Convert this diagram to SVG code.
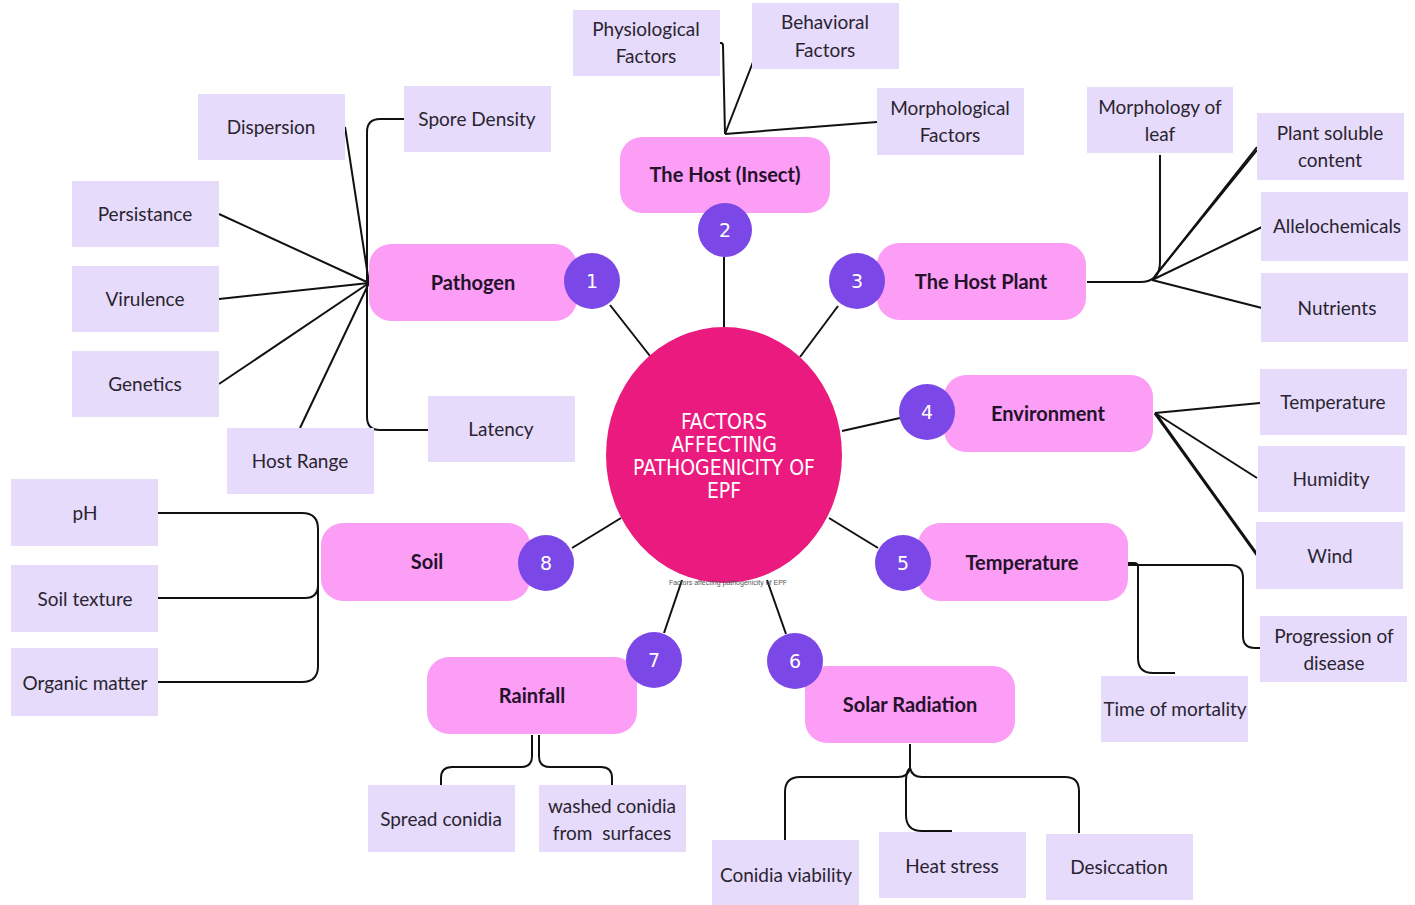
<svg xmlns="http://www.w3.org/2000/svg" width="1415" height="905" viewBox="0 0 1415 905">
<style>
.main{fill:#fc9df6}
.leaf{fill:#e6dbfb}
.num{fill:#7b47e6}
.mt{font-family:Lato,"Liberation Sans",sans-serif;font-weight:bold;font-size:20px;fill:#23122a;text-anchor:middle;dominant-baseline:central}
.lt{font-family:Lato,"Liberation Sans",sans-serif;font-size:19px;fill:#2a2430;text-anchor:middle;dominant-baseline:central}
.nt{font-family:"DejaVu Sans",sans-serif;font-size:19px;fill:#ffffff;text-anchor:middle;dominant-baseline:central}
.ct{font-family:"DejaVu Sans Condensed","DejaVu Sans",sans-serif;font-size:21px;fill:#ffffff;text-anchor:middle}
.cn{fill:none;stroke:#111;stroke-width:2}
</style>
<rect width="1415" height="905" fill="#ffffff"/>

<g id="connectors">
  <line class="cn" x1="724" y1="257" x2="724" y2="328"/>
  <line class="cn" x1="610" y1="305" x2="650" y2="356"/>
  <line class="cn" x1="838" y1="306" x2="800" y2="357"/>
  <line class="cn" x1="900" y1="418" x2="842" y2="431"/>
  <line class="cn" x1="878" y1="548" x2="829" y2="518"/>
  <line class="cn" x1="786" y1="634" x2="767" y2="580"/>
  <line class="cn" x1="664" y1="633" x2="682" y2="580"/>
  <line class="cn" x1="572" y1="548" x2="621" y2="518"/>
  <path class="cn" d="M719 43 H721 Q723 43 723 46 L725 134"/>
  <line class="cn" x1="753" y1="62" x2="725" y2="134"/>
  <line class="cn" x1="877" y1="122" x2="725" y2="134"/>
  <line class="cn" x1="345" y1="127" x2="369" y2="283"/>
  <line class="cn" x1="219" y1="214" x2="369" y2="283"/>
  <line class="cn" x1="219" y1="299" x2="369" y2="283"/>
  <line class="cn" x1="219" y1="384" x2="369" y2="283"/>
  <line class="cn" x1="300" y1="428" x2="369" y2="283"/>
  <path class="cn" d="M404 119 H380 Q367 119 367 132 V417 Q367 430 380 430 H428"/>
  <path class="cn" d="M1087 282 H1140 Q1160 282 1160 262 V155"/>
  <line class="cn" x1="1152" y1="280" x2="1257" y2="147"/>
  <line class="cn" x1="1155" y1="276" x2="1257" y2="150"/>
  <line class="cn" x1="1152" y1="280" x2="1262" y2="227"/>
  <line class="cn" x1="1152" y1="280" x2="1262" y2="308"/>
  <line class="cn" x1="1155" y1="413" x2="1260" y2="403"/>
  <line class="cn" x1="1155" y1="413" x2="1257" y2="478"/>
  <line class="cn" x1="1155" y1="413" x2="1263" y2="563" style="stroke-width:3"/>
  <path class="cn" d="M1128 565 H1230 Q1243 565 1243 578 V636 Q1243 648 1255 648 H1260"/>
  <path class="cn" d="M1128 563 H1134 Q1138 563 1138 567 V658 Q1138 673 1153 673 H1175"/>
  <path class="cn" d="M910 744 V768"/>
  <path class="cn" d="M910 768 Q908 777 898 777 H800 Q785 777 785 792 V840"/>
  <path class="cn" d="M910 768 Q906 772 906 780 V815 Q906 831 922 831 H952"/>
  <path class="cn" d="M910 768 Q912 777 922 777 H1065 Q1079 777 1079 791 V833"/>
  <path class="cn" d="M532 735 V756 Q532 767 521 767 H452 Q441 767 441 778 V785"/>
  <path class="cn" d="M539 735 V756 Q539 767 550 767 H601 Q612 767 612 778 V785"/>
  <path class="cn" d="M158 513 H302 Q318 513 318 529 V585 Q318 598 305 598 H158"/>
  <path class="cn" d="M318 560 V666 Q318 682 302 682 H158"/>
</g>

<g id="center">
  <ellipse cx="724" cy="455" rx="118" ry="128" fill="#ea1a7e"/>
  <text class="ct" x="724" y="429">FACTORS</text>
  <text class="ct" x="724" y="452">AFFECTING</text>
  <text class="ct" x="724" y="475">PATHOGENICITY OF</text>
  <text class="ct" x="724" y="498">EPF</text>
  <text x="728" y="585" font-family="'Liberation Sans',sans-serif" font-size="7" fill="#555" text-anchor="middle">Factors affecting pathogenicity of EPF</text>
</g>

<g id="host-insect">
  <rect class="main" x="620" y="137" width="210" height="76" rx="22"/>
  <text class="mt" x="725" y="174">The Host (Insect)</text>
  <circle class="num" cx="725" cy="230" r="27"/>
  <text class="nt" x="725" y="230">2</text>
</g>
<g id="pathogen">
  <rect class="main" x="369" y="244" width="208" height="77" rx="22"/>
  <text class="mt" x="473" y="282">Pathogen</text>
  <circle class="num" cx="592" cy="281" r="28"/>
  <text class="nt" x="592" y="281">1</text>
</g>
<g id="host-plant">
  <rect class="main" x="877" y="243" width="209" height="77" rx="22"/>
  <text class="mt" x="981" y="281">The Host Plant</text>
  <circle class="num" cx="857" cy="281" r="28"/>
  <text class="nt" x="857" y="281">3</text>
</g>
<g id="environment">
  <rect class="main" x="944" y="375" width="209" height="77" rx="22"/>
  <text class="mt" x="1048" y="413">Environment</text>
  <circle class="num" cx="927" cy="412" r="28"/>
  <text class="nt" x="927" y="412">4</text>
</g>
<g id="temperature">
  <rect class="main" x="918" y="523" width="210" height="78" rx="22"/>
  <text class="mt" x="1022" y="562">Temperature</text>
  <circle class="num" cx="903" cy="563" r="28"/>
  <text class="nt" x="903" y="563">5</text>
</g>
<g id="solar-radiation">
  <rect class="main" x="805" y="666" width="210" height="77" rx="22"/>
  <text class="mt" x="910" y="704">Solar Radiation</text>
  <circle class="num" cx="795" cy="661" r="28"/>
  <text class="nt" x="795" y="661">6</text>
</g>
<g id="rainfall">
  <rect class="main" x="427" y="657" width="210" height="77" rx="22"/>
  <text class="mt" x="532" y="695">Rainfall</text>
  <circle class="num" cx="654" cy="660" r="28"/>
  <text class="nt" x="654" y="660">7</text>
</g>
<g id="soil">
  <rect class="main" x="321" y="523" width="209" height="78" rx="22"/>
  <text class="mt" x="427" y="561">Soil</text>
  <circle class="num" cx="546" cy="563" r="28"/>
  <text class="nt" x="546" y="563">8</text>
</g>

<g id="physiological"><rect class="leaf" x="573" y="10" width="147" height="66"/><text class="lt" x="646" y="28">Physiological</text><text class="lt" x="646" y="55">Factors</text></g>
<g id="behavioral"><rect class="leaf" x="752" y="3" width="147" height="66"/><text class="lt" x="825" y="21">Behavioral</text><text class="lt" x="825" y="49">Factors</text></g>
<g id="morphological"><rect class="leaf" x="877" y="88" width="147" height="67"/><text class="lt" x="950" y="107">Morphological</text><text class="lt" x="950" y="134">Factors</text></g>
<g id="dispersion"><rect class="leaf" x="198" y="94" width="147" height="66"/><text class="lt" x="271" y="126">Dispersion</text></g>
<g id="spore-density"><rect class="leaf" x="404" y="86" width="147" height="66"/><text class="lt" x="477" y="118">Spore Density</text></g>
<g id="persistance"><rect class="leaf" x="72" y="181" width="147" height="66"/><text class="lt" x="145" y="213">Persistance</text></g>
<g id="virulence"><rect class="leaf" x="72" y="266" width="147" height="66"/><text class="lt" x="145" y="298">Virulence</text></g>
<g id="genetics"><rect class="leaf" x="72" y="351" width="147" height="66"/><text class="lt" x="145" y="383">Genetics</text></g>
<g id="latency"><rect class="leaf" x="428" y="396" width="147" height="66"/><text class="lt" x="501" y="428">Latency</text></g>
<g id="host-range"><rect class="leaf" x="227" y="428" width="147" height="66"/><text class="lt" x="300" y="460">Host Range</text></g>
<g id="morphology-leaf"><rect class="leaf" x="1087" y="87" width="146" height="66"/><text class="lt" x="1160" y="106">Morphology of</text><text class="lt" x="1160" y="133">leaf</text></g>
<g id="plant-soluble"><rect class="leaf" x="1257" y="113" width="147" height="67"/><text class="lt" x="1330" y="132">Plant soluble</text><text class="lt" x="1330" y="159">content</text></g>
<g id="allelochemicals"><rect class="leaf" x="1261" y="192" width="147" height="69"/><text class="lt" x="1337" y="225">Allelochemicals</text></g>
<g id="nutrients"><rect class="leaf" x="1261" y="273" width="147" height="69"/><text class="lt" x="1337" y="307">Nutrients</text></g>
<g id="env-temperature"><rect class="leaf" x="1260" y="369" width="147" height="66"/><text class="lt" x="1333" y="401">Temperature</text></g>
<g id="humidity"><rect class="leaf" x="1258" y="446" width="147" height="66"/><text class="lt" x="1331" y="478">Humidity</text></g>
<g id="wind"><rect class="leaf" x="1256" y="522" width="147" height="67"/><text class="lt" x="1330" y="555">Wind</text></g>
<g id="progression"><rect class="leaf" x="1260" y="616" width="147" height="66"/><text class="lt" x="1334" y="635">Progression of</text><text class="lt" x="1334" y="662">disease</text></g>
<g id="time-mortality"><rect class="leaf" x="1101" y="676" width="147" height="66"/><text class="lt" x="1175" y="708">Time of mortality</text></g>
<g id="ph"><rect class="leaf" x="11" y="479" width="147" height="67"/><text class="lt" x="85" y="512">pH</text></g>
<g id="soil-texture"><rect class="leaf" x="11" y="565" width="147" height="67"/><text class="lt" x="85" y="598">Soil texture</text></g>
<g id="organic-matter"><rect class="leaf" x="11" y="648" width="147" height="68"/><text class="lt" x="85" y="682">Organic matter</text></g>
<g id="spread-conidia"><rect class="leaf" x="368" y="785" width="147" height="67"/><text class="lt" x="441" y="818">Spread conidia</text></g>
<g id="washed-conidia"><rect class="leaf" x="539" y="785" width="147" height="67"/><text class="lt" x="612" y="805">washed conidia</text><text class="lt" x="612" y="832" xml:space="preserve">from  surfaces</text></g>
<g id="conidia-viability"><rect class="leaf" x="712" y="840" width="147" height="65"/><text class="lt" x="786" y="874">Conidia viability</text></g>
<g id="heat-stress"><rect class="leaf" x="879" y="832" width="147" height="66"/><text class="lt" x="952" y="865">Heat stress</text></g>
<g id="desiccation"><rect class="leaf" x="1046" y="834" width="147" height="66"/><text class="lt" x="1119" y="866">Desiccation</text></g>
</svg>
